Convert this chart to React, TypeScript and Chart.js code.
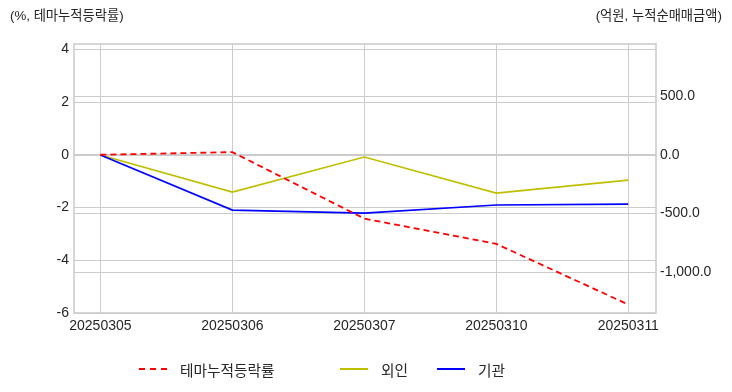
import React, { useEffect, useRef } from "react";
import { Chart, registerables } from "chart.js";

Chart.register(...registerables);

const dates = ["20250305", "20250306", "20250307", "20250310", "20250311"];
const themeReturn = [0, 0.1, -2.42, -3.38, -5.68];
const foreign = [0, -316, -17, -325, -214];
const institution = [0, -470, -496, -427, -419];
const leftTicks = [-6, -4, -2, 0, 2, 4];
const rightTicks = [-1000, -500, 0, 500];

const FONT = "'Liberation Sans', 'Noto Sans CJK KR', sans-serif";
const TEXT = "#262626";
const GRID = "#cccccc";

const frame = {
  id: "frame",
  afterDraw(chart: any) {
    const { ctx, chartArea: a } = chart;
    ctx.save();
    ctx.strokeStyle = GRID;
    ctx.lineWidth = 1.6;
    ctx.strokeRect(a.left, a.top, a.right - a.left, a.bottom - a.top);
    ctx.restore();
  },
};

export default function App() {
  const ref = useRef<HTMLCanvasElement>(null);
  useEffect(() => {
    const toPts = (arr: number[]) => arr.map((v, i) => ({ x: i, y: v }));
    const chart = new Chart(ref.current!, {
      type: "line",
      data: {
        datasets: [
          {
            label: "테마누적등락률",
            data: toPts(themeReturn),
            borderColor: "#ff0000",
            borderDash: [6, 4],
            borderWidth: 1.8,
            pointRadius: 0,
            yAxisID: "y",
            order: 0,
          },
          {
            label: "외인",
            data: toPts(foreign),
            borderColor: "#bfbf00",
            borderWidth: 1.7,
            pointRadius: 0,
            yAxisID: "y2",
            order: 2,
          },
          {
            label: "기관",
            data: toPts(institution),
            borderColor: "#0000ff",
            borderWidth: 1.7,
            pointRadius: 0,
            yAxisID: "y2",
            order: 1,
          },
        ],
      },
      options: {
        responsive: false,
        animation: false,
        layout: { padding: { top: 44, left: 0, right: 0, bottom: 0 } },
        plugins: { legend: { display: false }, tooltip: { enabled: false } },
        scales: {
          x: {
            type: "linear",
            min: -0.2,
            max: 4.21,
            afterBuildTicks: (s: any) => {
              s.ticks = dates.map((_, i) => ({ value: i }));
            },
            afterFit: (s: any) => {
              s.height = 79;
            },
            grid: { color: GRID, lineWidth: 1, drawTicks: false },
            border: { display: false },
            ticks: {
              padding: 5,
              color: TEXT,
              font: { family: FONT, size: 14 },
              maxRotation: 0,
              autoSkip: false,
              callback: (v: any) => dates[v] ?? "",
            },
          },
          y: {
            position: "left",
            min: -6,
            max: 4.2,
            afterBuildTicks: (s: any) => {
              s.ticks = leftTicks.map((v) => ({ value: v }));
            },
            afterFit: (s: any) => {
              s.width = 74;
            },
            grid: { color: GRID, lineWidth: 1, drawTicks: false },
            border: { display: false },
            ticks: {
              padding: 5,
              color: TEXT,
              font: { family: FONT, size: 14 },
              callback: (v: any) => String(v),
            },
          },
          y2: {
            position: "right",
            min: -1350,
            max: 949,
            afterBuildTicks: (s: any) => {
              s.ticks = rightTicks.map((v) => ({ value: v }));
            },
            afterFit: (s: any) => {
              s.width = 76;
            },
            grid: { color: GRID, lineWidth: 1, drawTicks: false },
            border: { display: false },
            ticks: {
              padding: 4,
              color: TEXT,
              font: { family: FONT, size: 14 },
              callback: (v: any) =>
                Number(v).toLocaleString("en-US", {
                  minimumFractionDigits: 1,
                  maximumFractionDigits: 1,
                }),
            },
          },
        },
      },
      plugins: [frame],
    } as any);
    return () => chart.destroy();
  }, []);

  const txt: React.CSSProperties = {
    position: "absolute",
    fontFamily: FONT,
    fontSize: 13.3,
    color: TEXT,
    whiteSpace: "nowrap",
    lineHeight: "16px",
  };
  const legItem = (left: number, color: string, dashed: boolean, label: string) => (
    <div style={{ position: "absolute", left, top: 360, display: "flex", alignItems: "center", height: 18 }}>
      <div
        style={{
          width: 28,
          height: 0,
          borderTop: `2px ${dashed ? "dashed" : "solid"} ${color}`,
        }}
      />
      <span style={{ marginLeft: 13, fontFamily: FONT, fontSize: 14.7, color: TEXT }}>{label}</span>
    </div>
  );

  return (
    <div style={{ position: "fixed", left: 0, top: 0, width: 732, height: 392, background: "#fff" }}>
      <canvas ref={ref} width={732} height={392} style={{ position: "absolute", left: 0, top: 0 }} />
      <div style={{ ...txt, left: 10, top: 8 }}>(%, 테마누적등락률)</div>
      <div style={{ ...txt, right: 10, top: 8 }}>(억원, 누적순매매금액)</div>
      {legItem(139, "#ff0000", true, "테마누적등락률")}
      {legItem(340, "#bfbf00", false, "외인")}
      {legItem(437, "#0000ff", false, "기관")}
    </div>
  );
}
